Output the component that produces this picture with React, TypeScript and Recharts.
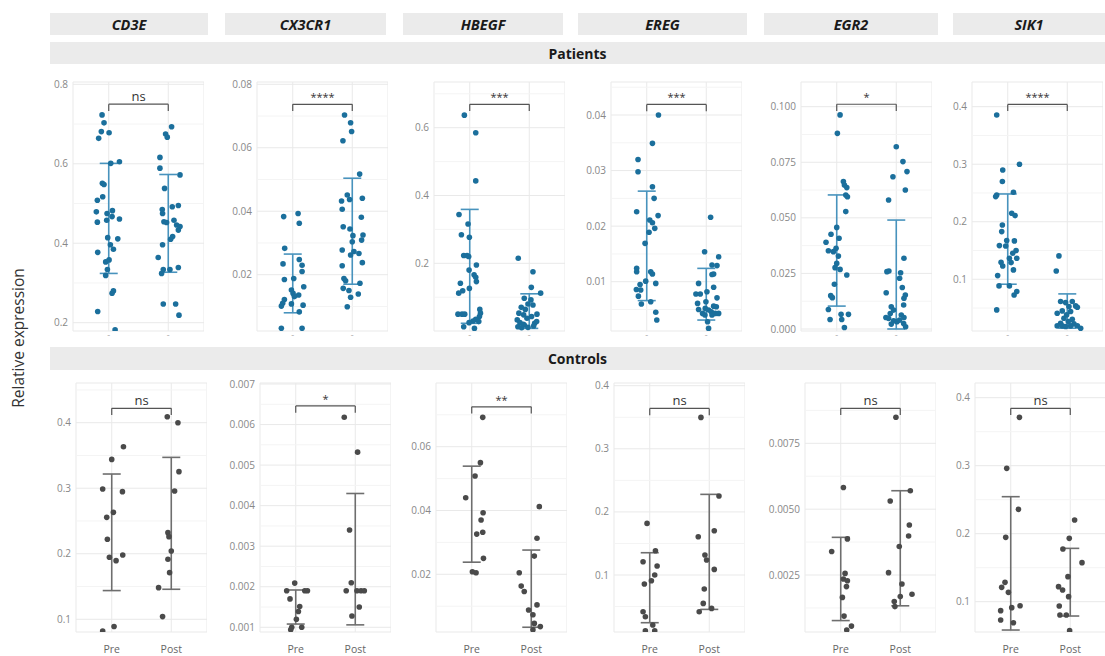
import React from 'react';
import { ScatterChart, Scatter, XAxis, YAxis, CartesianGrid, ReferenceLine, ErrorBar } from 'recharts';

// each point: [jittered group position (1 = Pre, 2 = Post), relative expression]
type Pt = [number, number];

const GENES = ['CD3E', 'CX3CR1', 'HBEGF', 'EREG', 'EGR2', 'SIK1'];
const GROUPS = ['Pre', 'Post'];

// ---------- Patients ----------
const cd3ePat: Pt[] = [
  [0.888, 0.723], [0.921, 0.703], [0.876, 0.681], [1.006, 0.678], [0.831, 0.664], [1.034, 0.601], [1.18, 0.605],
  [0.893, 0.551], [0.921, 0.548], [0.899, 0.517], [0.809, 0.508], [0.792, 0.479], [1.062, 0.482], [0.972, 0.475],
  [1.056, 0.467], [0.809, 0.453], [0.966, 0.458], [1.18, 0.461], [0.983, 0.414], [1.152, 0.411], [1.028, 0.396],
  [1.079, 0.385], [0.815, 0.377], [0.949, 0.353], [1.006, 0.358], [0.978, 0.334], [0.949, 0.319], [1.079, 0.28],
  [1.056, 0.274], [0.815, 0.228], [1.107, 0.182],
  [2.056, 0.693], [1.955, 0.675], [1.983, 0.667], [1.86, 0.616], [1.86, 0.589], [2.197, 0.572], [1.938, 0.538],
  [1.899, 0.485], [2.067, 0.492], [2.169, 0.495], [1.904, 0.475], [1.927, 0.454], [1.972, 0.452], [2.096, 0.458],
  [2.14, 0.446], [2.197, 0.442], [2.169, 0.433], [2.039, 0.41], [2.073, 0.417], [1.904, 0.396], [1.831, 0.364],
  [1.916, 0.334], [1.888, 0.324], [2.028, 0.334], [2.169, 0.339], [1.916, 0.247], [2.124, 0.247], [2.18, 0.219],
];
const cx3cr1Pat: Pt[] = [
  [0.848, 0.0383], [1.09, 0.0393], [1.11, 0.0362], [0.865, 0.0283], [0.837, 0.0234], [1.11, 0.0248], [1.157, 0.023],
  [1.017, 0.0188], [0.86, 0.0185], [1.157, 0.021], [0.978, 0.0152], [1.006, 0.0141], [1.185, 0.0162], [1.1, 0.0136],
  [1.028, 0.0131], [0.86, 0.0122], [0.831, 0.011], [0.809, 0.0101], [0.978, 0.0108], [1.174, 0.0104], [1.11, 0.0083],
  [0.809, 0.0031], [1.157, 0.0031],
  [1.87, 0.0703], [1.972, 0.0679], [1.989, 0.0651], [1.843, 0.0622], [2.124, 0.0517], [1.916, 0.0451], [1.955, 0.0437],
  [1.82, 0.0432], [2.169, 0.0441], [1.831, 0.0406], [2.152, 0.0381], [1.848, 0.0351], [1.961, 0.0344], [2.011, 0.0323],
  [2.18, 0.0325], [2.157, 0.0309], [2.0, 0.0304], [1.831, 0.0278], [1.972, 0.0262], [2.112, 0.0267], [2.028, 0.0273],
  [1.831, 0.0228], [2.169, 0.0238], [1.86, 0.0188], [1.888, 0.0181], [2.129, 0.0173], [1.848, 0.0157], [1.944, 0.015],
  [2.101, 0.0139], [1.972, 0.0129], [1.916, 0.0099],
];
const hbegfPat: Pt[] = [
  [0.91, 0.637], [1.101, 0.585], [1.101, 0.443], [0.82, 0.344], [0.972, 0.316], [0.86, 0.284], [0.994, 0.277],
  [0.899, 0.223], [0.955, 0.223], [0.983, 0.22], [1.112, 0.195], [0.989, 0.18], [1.073, 0.166], [1.101, 0.159],
  [1.112, 0.146], [0.843, 0.141], [0.994, 0.126], [0.882, 0.119], [0.815, 0.112], [1.169, 0.064], [1.18, 0.053],
  [1.163, 0.043], [0.803, 0.05], [0.871, 0.05], [0.916, 0.05], [1.101, 0.035], [1.056, 0.03], [1.152, 0.028],
  [0.899, 0.013], [1.079, 0.008], [0.989, 0.025],
  [1.815, 0.215], [2.062, 0.175], [2.034, 0.129], [2.191, 0.112], [1.916, 0.097], [2.028, 0.092], [1.978, 0.08],
  [2.062, 0.077], [1.865, 0.07], [1.933, 0.064], [1.826, 0.053], [1.905, 0.048], [2.129, 0.05], [2.039, 0.043],
  [1.961, 0.038], [1.798, 0.033], [1.843, 0.025], [2.09, 0.023], [2.124, 0.028], [1.916, 0.018], [1.809, 0.013],
  [1.978, 0.011], [2.073, 0.015], [1.871, 0.01], [1.899, 0.02],
];
const eregPat: Pt[] = [
  [1.197, 0.04], [1.096, 0.0349], [0.854, 0.032], [0.854, 0.0298], [1.096, 0.0271], [1.124, 0.025], [0.831, 0.0226],
  [1.191, 0.0219], [1.051, 0.0211], [1.096, 0.0206], [1.135, 0.0196], [1.039, 0.0189], [0.972, 0.0169], [0.831, 0.0124],
  [0.831, 0.0118], [1.067, 0.0118], [1.096, 0.0114], [0.983, 0.0101], [1.152, 0.0097], [0.888, 0.0095], [0.826, 0.0086],
  [0.899, 0.0085], [0.86, 0.0074], [1.067, 0.0064], [0.91, 0.006], [1.152, 0.0045], [1.169, 0.0031],
  [2.073, 0.0216], [1.972, 0.0154], [2.208, 0.0145], [2.096, 0.013], [2.18, 0.0129], [1.871, 0.0097], [2.096, 0.0113],
  [2.124, 0.0114], [1.826, 0.0078], [1.899, 0.0078], [2.011, 0.0082], [2.124, 0.009], [2.18, 0.0071], [1.994, 0.0064],
  [1.854, 0.0061], [2.124, 0.0056], [2.169, 0.0055], [1.983, 0.0052], [1.871, 0.005], [2.039, 0.0049], [2.208, 0.0043],
  [2.084, 0.0046], [1.938, 0.0043], [1.978, 0.004], [2.096, 0.004], [2.022, 0.0028], [2.039, 0.0016], [2.152, 0.0043],
];
const egr2Pat: Pt[] = [
  [1.056, 0.0963], [1.011, 0.088], [1.112, 0.0663], [1.129, 0.0648], [1.169, 0.0636], [1.152, 0.0603], [1.18, 0.0595],
  [1.152, 0.0528], [1.0, 0.0457], [0.904, 0.0426], [0.82, 0.039], [1.039, 0.0408], [0.989, 0.0363], [0.86, 0.0352],
  [0.944, 0.0348], [1.028, 0.0328], [1.0, 0.0295], [0.972, 0.0276], [1.056, 0.0268], [1.169, 0.0243], [0.961, 0.0201],
  [0.899, 0.015], [0.927, 0.0141], [0.86, 0.0088], [1.073, 0.0066], [1.197, 0.0066], [0.888, 0.0043], [1.084, 0.0043],
  [1.129, 0.0007],
  [2.0, 0.082], [2.112, 0.0753], [2.18, 0.0708], [1.944, 0.0685], [2.152, 0.0625], [1.871, 0.058], [2.129, 0.0318],
  [1.876, 0.0261], [1.843, 0.0258], [2.073, 0.0253], [2.056, 0.0228], [1.831, 0.0163], [2.101, 0.0187], [2.152, 0.0153],
  [2.129, 0.0138], [2.124, 0.0108], [1.916, 0.01], [1.955, 0.0085], [1.899, 0.007], [2.084, 0.0063], [1.826, 0.0052],
  [2.129, 0.0052], [1.871, 0.0048], [1.955, 0.0037], [2.011, 0.0033], [1.916, 0.0022], [2.124, 0.0025], [2.157, 0.001],
  [2.056, 0.004],
];
const sik1Pat: Pt[] = [
  [0.815, 0.3855], [1.197, 0.3], [0.916, 0.29], [0.91, 0.27], [0.815, 0.2466], [0.798, 0.2437], [1.096, 0.2512],
  [1.067, 0.2147], [1.124, 0.2107], [0.91, 0.1944], [0.899, 0.1829], [0.983, 0.1672], [1.112, 0.1667], [0.86, 0.1585],
  [0.966, 0.1579], [1.14, 0.1499], [1.084, 0.1452], [1.028, 0.1365], [1.152, 0.1365], [0.888, 0.1296], [0.916, 0.1232],
  [1.056, 0.129], [1.096, 0.1163], [0.831, 0.1064], [0.854, 0.0885], [1.028, 0.0885], [1.152, 0.0786], [1.107, 0.0728],
  [0.815, 0.0468],
  [1.86, 0.1406], [1.815, 0.1145], [1.888, 0.0613], [2.084, 0.0613], [1.972, 0.0595], [2.14, 0.0537], [2.028, 0.0526],
  [1.831, 0.041], [1.916, 0.045], [2.169, 0.0514], [1.989, 0.0381], [2.056, 0.0439], [1.888, 0.0236], [2.017, 0.0265],
  [2.112, 0.0225], [2.169, 0.019], [1.916, 0.019], [1.972, 0.0178], [2.056, 0.019], [2.225, 0.015], [1.831, 0.019],
  [2.084, 0.0306], [1.944, 0.0323],
];

// ---------- Controls ----------
const cd3eCtl: Pt[] = [
  [1.0, 0.344], [1.197, 0.3634], [0.848, 0.2988], [1.18, 0.2948], [1.028, 0.2632], [0.916, 0.2556], [0.927, 0.2221],
  [0.961, 0.1946], [1.073, 0.1895], [1.185, 0.1982], [1.039, 0.0889], [0.848, 0.0822],
  [1.933, 0.4092], [2.112, 0.4], [2.129, 0.3253], [2.056, 0.2958], [1.944, 0.2322], [1.961, 0.2261], [2.0, 0.2043],
  [1.944, 0.1916], [1.972, 0.1712], [1.787, 0.1483], [1.854, 0.1041],
];
const cx3cr1Ctl: Pt[] = [
  [0.983, 0.00209], [0.848, 0.0019], [1.152, 0.0019], [1.197, 0.0019], [0.904, 0.0017], [1.067, 0.00151],
  [1.045, 0.00139], [1.011, 0.0012], [0.933, 0.001], [1.101, 0.001], [0.916, 0.00094],
  [1.815, 0.00618], [2.039, 0.00532], [1.904, 0.0034], [1.933, 0.0021], [1.848, 0.0019], [2.028, 0.0019],
  [2.096, 0.0019], [2.152, 0.0019], [2.067, 0.0015], [1.944, 0.00128],
];
const hbegfCtl: Pt[] = [
  [1.185, 0.0692], [1.146, 0.055], [1.056, 0.0508], [0.899, 0.044], [1.191, 0.0393], [1.157, 0.037], [1.084, 0.0326],
  [1.185, 0.0332], [1.197, 0.025], [1.011, 0.0208], [1.073, 0.0205],
  [2.135, 0.0412], [2.096, 0.0313], [2.051, 0.0257], [1.798, 0.0205], [1.831, 0.0163], [1.882, 0.0146], [1.955, 0.0088],
  [2.096, 0.0104], [2.028, 0.0073], [2.051, 0.0046], [2.152, 0.0036], [2.028, 0.0026],
];
const eregCtl: Pt[] = [
  [0.955, 0.1818], [1.096, 0.1385], [0.888, 0.1211], [1.124, 0.1142], [1.084, 0.1], [1.028, 0.091], [0.91, 0.0857],
  [0.888, 0.0418], [0.927, 0.0339], [1.051, 0.0207], [0.927, 0.0117], [1.084, 0.0117],
  [1.86, 0.3498], [2.163, 0.2251], [2.084, 0.1702], [1.815, 0.1607], [1.927, 0.1316], [1.955, 0.1237], [2.084, 0.1089],
  [1.916, 0.0778], [1.899, 0.055], [1.831, 0.0418], [2.039, 0.0471],
];
const egr2Ctl: Pt[] = [
  [1.045, 0.00582], [0.848, 0.00339], [1.112, 0.00387], [1.073, 0.00256], [1.045, 0.00235], [1.112, 0.00228],
  [1.096, 0.00206], [1.028, 0.00165], [1.056, 0.00094], [1.18, 0.00056], [1.101, 0.00041],
  [1.927, 0.00849], [2.169, 0.0057], [1.831, 0.00531], [2.152, 0.0044], [2.14, 0.00398], [1.983, 0.00358],
  [1.803, 0.00259], [2.028, 0.00216], [2.197, 0.00177], [2.0, 0.00168], [1.899, 0.00149], [1.91, 0.0013],
];
const sik1Ctl: Pt[] = [
  [1.146, 0.3711], [0.933, 0.2961], [1.129, 0.2358], [0.916, 0.1946], [0.904, 0.1284], [0.848, 0.1211], [0.961, 0.1137],
  [0.831, 0.0868], [1.017, 0.0912], [1.157, 0.0941], [0.831, 0.073], [1.045, 0.0691],
  [2.073, 0.2201], [1.983, 0.1931], [1.876, 0.1775], [2.197, 0.1574], [1.961, 0.1368], [1.803, 0.1221], [1.871, 0.1172],
  [1.972, 0.1074], [1.815, 0.0936], [1.826, 0.0804], [1.933, 0.0804], [1.989, 0.0574],
];

// error bars: [low, high] for Pre, Post
const patBars: [number, number][][] = [
  [[0.324, 0.601], [0.327, 0.573]],
  [[0.008, 0.0265], [0.017, 0.0504]],
  [[0.023, 0.359], [0.008, 0.11]],
  [[0.0066, 0.0263], [0.0031, 0.0124]],
  [[0.0103, 0.0603], [0.0, 0.049]],
  [[0.0914, 0.2483], [0.015, 0.0746]],
];
const ctlBars: [number, number][][] = [
  [[0.1438, 0.3217], [0.1458, 0.3471]],
  [[0.00108, 0.00192], [0.00106, 0.0043]],
  [[0.0238, 0.0539], [0.0034, 0.0276]],
  [[0.0244, 0.1353], [0.0455, 0.2278]],
  [[0.00077, 0.00393], [0.00133, 0.0057]],
  [[0.0583, 0.2544], [0.0789, 0.1784]],
];

const patSig = ['ns', '****', '***', '***', '*', '****'];
const ctlSig = ['ns', '*', '**', 'ns', 'ns', 'ns'];
const patBracket = [0.75, 0.0737, 0.669, 0.0419, 0.1011, 0.404];
const ctlBracket = [0.4219, 0.00646, 0.0725, 0.364, 0.00883, 0.3843];

const patDomain: [number, number][] = [
  [0.1791, 0.8058], [0.00226, 0.08072], [0.0003, 0.7348], [0.00113, 0.04594], [-0.0009, 0.1111], [0.0101, 0.4429],
];
const ctlDomain: [number, number][] = [
  [0.0806, 0.4606], [0.000884, 0.007025], [0.00191, 0.07997], [0.00967, 0.4043], [0.000336, 0.00979], [0.0554, 0.4216],
];

const patTicks = [
  [0.2, 0.4, 0.6, 0.8], [0.02, 0.04, 0.06, 0.08], [0.2, 0.4, 0.6], [0.01, 0.02, 0.03, 0.04],
  [0, 0.025, 0.05, 0.075, 0.1], [0.1, 0.2, 0.3, 0.4],
];
const patTickLabels = [
  ['0.2', '0.4', '0.6', '0.8'], ['0.02', '0.04', '0.06', '0.08'], ['0.2', '0.4', '0.6'], ['0.01', '0.02', '0.03', '0.04'],
  ['0.000', '0.025', '0.050', '0.075', '0.100'], ['0.1', '0.2', '0.3', '0.4'],
];
const ctlTicks = [
  [0.1, 0.2, 0.3, 0.4], [0.001, 0.002, 0.003, 0.004, 0.005, 0.006, 0.007], [0.02, 0.04, 0.06],
  [0.1, 0.2, 0.3, 0.4], [0.0025, 0.005, 0.0075], [0.1, 0.2, 0.3, 0.4],
];
const ctlTickLabels = [
  ['0.1', '0.2', '0.3', '0.4'], ['0.001', '0.002', '0.003', '0.004', '0.005', '0.006', '0.007'], ['0.02', '0.04', '0.06'],
  ['0.1', '0.2', '0.3', '0.4'], ['0.0025', '0.0050', '0.0075'], ['0.1', '0.2', '0.3', '0.4'],
];

const patPoints = [cd3ePat, cx3cr1Pat, hbegfPat, eregPat, egr2Pat, sik1Pat];
const ctlPoints = [cd3eCtl, cx3cr1Ctl, hbegfCtl, eregCtl, egr2Ctl, sik1Ctl];

// layout (px)
const PAT_LEFT = [73, 256.5, 433.5, 610.5, 801, 972];
const CTL_LEFT = [76, 259.5, 436, 613.5, 804.5, 975];
const PAT_TOP = 82;
const CTL_TOP = 383;
const PLOT_W = 131;
const PLOT_H = 249;
const AXIS_W = 46;
const PAD_TOP = 8;
const GENE_STRIPS = [[50, 208], [225, 386], [403, 563], [578, 747], [764, 938], [953, 1105]];

const BLUE = '#1b6f9c';
const BLUE_BAR = '#4893bd';
const GREY = '#4a4a4a';
const GREY_BAR = '#6e6e6e';

interface PanelProps {
  left: number;
  top: number;
  pts: Pt[];
  bars: [number, number][];
  domain: [number, number];
  ticks: number[];
  tickLabels: string[];
  sig: string;
  bracket: number;
  dot: string;
  barColor: string;
  bottomRow: boolean;
}

const Panel: React.FC<PanelProps> = ({ left, top, pts, bars, domain, ticks, tickLabels, sig, bracket, dot, barColor, bottomRow }) => {
  const xH = bottomRow ? 24 : 14;
  const span = domain[1] - domain[0];
  const drop = span * 0.027;
  const step = ticks[1] - ticks[0];
  const minors: number[] = [];
  for (let v = ticks[0] - step / 2; v < domain[1]; v += step) {
    if (v > domain[0]) minors.push(v);
  }
  const data = pts.map(([x, y]) => ({ x, y }));
  const barData = bars.map(([lo, hi], i) => ({ x: i + 1, y: (lo + hi) / 2, err: (hi - lo) / 2 }));
  const bracketColor = '#555';

  return (
    <div style={{ position: 'absolute', left: left - AXIS_W, top: top - PAD_TOP }}>
      <ScatterChart width={PLOT_W + AXIS_W} height={PLOT_H + xH + PAD_TOP} margin={{ top: PAD_TOP, right: 0, bottom: 0, left: 0 }}>
        <CartesianGrid stroke="#e9e9e9" strokeWidth={1} />
        {minors.map((v) => (
          <ReferenceLine key={v} y={v} stroke="#f4f4f4" strokeWidth={1} />
        ))}
        <XAxis
          type="number"
          dataKey="x"
          domain={[0.4, 2.6]}
          ticks={[1, 2]}
          allowDataOverflow
          interval={0}
          height={xH}
          axisLine={false}
          tickLine={false}
          tickSize={bottomRow ? 6 : 1}
          tickMargin={bottomRow ? 8 : 0}
          tickFormatter={(v: number) => (bottomRow ? GROUPS[v - 1] : '-')}
          tick={{ fill: bottomRow ? '#666' : '#aaa', fontSize: bottomRow ? 10.5 : 9 }}
        />
        <YAxis
          type="number"
          dataKey="y"
          domain={domain}
          ticks={ticks}
          allowDataOverflow
          interval={0}
          width={AXIS_W}
          axisLine={false}
          tickLine={false}
          tickSize={3}
          tickMargin={2}
          tickFormatter={(_v: number, i: number) => tickLabels[i]}
          tick={{ fill: '#888', fontSize: 10 }}
        />
        <Scatter
          data={data}
          isAnimationActive={false}
          shape={(p: any) => <circle cx={p.cx} cy={p.cy} r={2.8} fill={dot} />}
        />
        <Scatter data={barData} isAnimationActive={false} shape={() => <g />}>
          <ErrorBar dataKey="err" direction="y" width={9} stroke={barColor} strokeWidth={1.6} />
        </Scatter>
        <ReferenceLine segment={[{ x: 1, y: bracket - drop }, { x: 1, y: bracket }]} stroke={bracketColor} strokeWidth={1.2} />
        <ReferenceLine segment={[{ x: 1, y: bracket }, { x: 2, y: bracket }]} stroke={bracketColor} strokeWidth={1.2} />
        <ReferenceLine segment={[{ x: 2, y: bracket }, { x: 2, y: bracket - drop }]} stroke={bracketColor} strokeWidth={1.2} />
        <Scatter
          data={[{ x: 1.5, y: bracket, label: sig }]}
          isAnimationActive={false}
          shape={(p: any) => (
            <text x={p.cx} y={p.cy - 3} textAnchor="middle" fontSize={sig === 'ns' ? 13 : 11} fill="#333">
              {p.payload.label}
            </text>
          )}
        />
      </ScatterChart>
    </div>
  );
};

const stripStyle: React.CSSProperties = {
  position: 'absolute',
  background: '#ebebeb',
  display: 'flex',
  alignItems: 'center',
  justifyContent: 'center',
  color: '#1a1a1a',
  fontWeight: 700,
  fontSize: 14,
};

export default function App() {
  return (
    <div
      style={{
        position: 'absolute',
        left: 0,
        top: 0,
        width: 1105,
        height: 656,
        background: '#fff',
        overflow: 'hidden',
        fontFamily: '"Open Sans", sans-serif',
      }}
    >
      {GENES.map((g, i) => (
        <div key={g} style={{ ...stripStyle, left: GENE_STRIPS[i][0], width: GENE_STRIPS[i][1] - GENE_STRIPS[i][0], top: 13, height: 22, fontStyle: 'italic', fontSize: 14.5 }}>
          {g}
        </div>
      ))}
      <div style={{ ...stripStyle, left: 50, width: 1055, top: 42, height: 22 }}>Patients</div>
      <div style={{ ...stripStyle, left: 50, width: 1055, top: 347, height: 23 }}>Controls</div>

      <div
        style={{
          position: 'absolute',
          left: 18 - 100,
          top: 338 - 11,
          width: 200,
          height: 22,
          lineHeight: '22px',
          textAlign: 'center',
          transform: 'rotate(-90deg)',
          fontSize: 15.5,
          color: '#333',
        }}
      >
        Relative expression
      </div>

      {GENES.map((g, i) => (
        <Panel
          key={'pat' + g}
          left={PAT_LEFT[i]}
          top={PAT_TOP}
          pts={patPoints[i]}
          bars={patBars[i]}
          domain={patDomain[i]}
          ticks={patTicks[i]}
          tickLabels={patTickLabels[i]}
          sig={patSig[i]}
          bracket={patBracket[i]}
          dot={BLUE}
          barColor={BLUE_BAR}
          bottomRow={false}
        />
      ))}
      {GENES.map((g, i) => (
        <Panel
          key={'ctl' + g}
          left={CTL_LEFT[i]}
          top={CTL_TOP}
          pts={ctlPoints[i]}
          bars={ctlBars[i]}
          domain={ctlDomain[i]}
          ticks={ctlTicks[i]}
          tickLabels={ctlTickLabels[i]}
          sig={ctlSig[i]}
          bracket={ctlBracket[i]}
          dot={GREY}
          barColor={GREY_BAR}
          bottomRow
        />
      ))}
    </div>
  );
}
